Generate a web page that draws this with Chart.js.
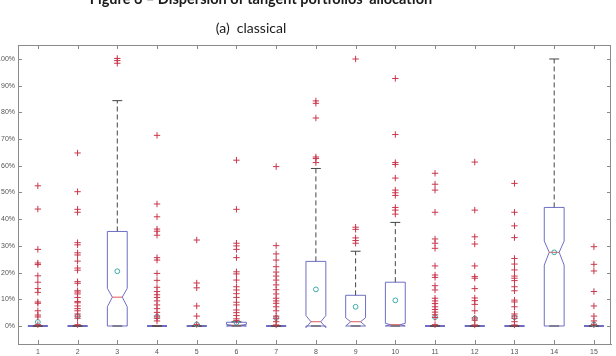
<!DOCTYPE html>
<html>
<head>
<meta charset="utf-8">
<script src="https://cdn.jsdelivr.net/npm/chart.js@4/dist/chart.umd.min.js"></script>
<style>
  html, body { margin: 0; padding: 0; background: #ffffff; }
  #wrap { width: 616px; height: 356px; }
</style>
</head>
<body>
<div id="wrap"><canvas id="c" width="616" height="356"></canvas></div>
<script>
// ---------- data (values in %) ----------
const titleText = "Figure 6 – Dispersion of tangent portfolios' allocation";
const subtitleText = "(a)  classical";
const categories = [1, 2, 3, 4, 5, 6, 7, 8, 9, 10, 11, 12, 13, 14, 15];
const xLabels = ["1", "2", "3", "4", "5", "6", "7", "8", "9", "10", "11", "12", "13", "14", "15"];
const yTicks = [0, 10, 20, 30, 40, 50, 60, 70, 80, 90, 100];

const q1Values      = [0, 0, 0,    0, 0, 0,   0, 0,    0,    0,    0, 0, 0, 0,    0];
const q3Values      = [0, 0, 35.4, 0, 0, 1.4, 0, 24.2, 11.5, 16.4, 0, 0, 0, 44.4, 0];
const medianValues  = [0, 0, 10.8, 0, 0, 0.3, 0, 1.6,  1.6,  0.5,  0, 0, 0, 27.6, 0];
const notchLow      = [0, 0, 7.2,  0, 0, 0,   0, -0.6, 0,    0,    0, 0, 0, 22.8, 0];
const notchHigh     = [0, 0, 14.1, 0, 0, 0.6, 0, 3.9,  3.1,  1.0,  0, 0, 0, 31.8, 0];
const whiskerLow    = [0, 0, 0,    0, 0, 0,   0, 0,    0,    0,    0, 0, 0, 0,    0];
const whiskerHigh   = [0, 0, 84.4, 0, 0, 1.6, 0, 59.0, 28.0, 38.8, 0, 0, 0, 100,  0];
const meanValues    = [1.5, 3.7, 20.5, 3.5, 0.6, 1.3, 3.0, 13.7, 7.2, 9.6, 3.3, 2.8, 3.3, 27.6, 0.6];

const outliers = [
  [52.5, 43.8, 28.7, 23.6, 23.0, 18.8, 16.4, 14.0, 12.6, 9.0, 8.5, 5.7, 4.1, 3.4, 0.5],
  [64.8, 50.3, 43.7, 42.6, 31.2, 30.4, 27.4, 26.6, 24.3, 21.7, 20.9, 16.6, 16.0, 13.2, 12.7, 12.0, 10.7, 9.2, 8.7, 7.5, 6.5, 5.7, 4.5, 3.7, 2.9, 0.5],
  [100.2, 99.4, 98.4],
  [71.4, 45.7, 40.9, 36.3, 35.5, 34.0, 25.6, 24.7, 19.7, 17.1, 14.5, 12.9, 11.7, 10.7, 9.4, 7.9, 6.5, 5.1, 3.7, 2.9, 1.9],
  [32.2, 16.1, 14.3, 7.5, 3.7, 0.6],
  [62.1, 43.7, 31.0, 30.0, 28.7, 25.6, 20.3, 19.5, 17.2, 14.7, 13.5, 12.1, 10.7, 8.9, 7.9, 6.0, 5.0, 3.9, 2.7, 2.1],
  [59.7, 30.1, 27.0, 24.7, 22.2, 20.2, 18.7, 17.2, 15.4, 13.6, 12.0, 10.4, 9.4, 8.5, 7.2, 5.7, 3.7, 2.9, 1.6, 0.4],
  [84.3, 83.4, 77.9, 63.3, 62.7, 61.2],
  [100, 37.0, 36.2, 33.0, 32.0, 31.0],
  [92.7, 71.7, 61.2, 60.5, 55.4, 50.9, 49.9, 48.9, 44.4, 43.4, 41.9],
  [57.2, 53.1, 50.9, 42.6, 32.6, 31.0, 29.1, 22.5, 19.1, 18.2, 15.1, 13.5, 10.4, 9.4, 8.4, 7.2, 6.2, 5.2, 4.2, 3.2, 0.5],
  [61.4, 43.4, 33.4, 30.7, 22.5, 18.5, 17.9, 14.0, 10.5, 9.5, 8.1, 5.7, 3.0, 2.2, 0.4],
  [53.4, 42.6, 37.5, 33.1, 25.3, 23.2, 21.0, 18.7, 17.9, 17.0, 14.7, 13.2, 9.7, 9.0, 7.2, 4.5, 3.7, 2.9, 1.6, 0.4],
  [],
  [29.7, 23.1, 20.6, 12.9, 7.5, 3.7, 1.9, 0.5]
];

// ---------- styles ----------
const BOX_COLOR = 'rgb(95,95,190)';
const MEDIAN_COLOR = 'rgb(220,70,70)';
const WHISKER_COLOR = '#444444';
const OUTLIER_COLOR = 'rgb(200,55,75)';
const MEAN_COLOR = 'rgb(60,170,170)';
const AXIS_COLOR = '#8a8a8a';
const TICK_LABEL_COLOR = '#555555';
const BOX_HALF = 0.25;

const outlierPoints = [];
categories.forEach((c, i) => outliers[i].forEach(v => outlierPoints.push({ x: c, y: v })));
const meanPoints = categories.map((c, i) => ({ x: c, y: meanValues[i] }));

const boxPlugin = {
  id: 'boxes',
  beforeDatasetsDraw(chart) {
    const { ctx, scales: { x, y }, chartArea } = chart;
    ctx.save();
    // mirrored frame and inward ticks
    ctx.strokeStyle = AXIS_COLOR;
    ctx.lineWidth = 1;
    ctx.beginPath();
    ctx.moveTo(chartArea.left, chartArea.top + 0.5);
    ctx.lineTo(chartArea.right, chartArea.top + 0.5);
    ctx.moveTo(chartArea.right - 0.5, chartArea.top);
    ctx.lineTo(chartArea.right - 0.5, chartArea.bottom);
    const tl = 4;
    categories.forEach(c => {
      const px = Math.round(x.getPixelForValue(c)) + 0.5;
      ctx.moveTo(px, chartArea.top); ctx.lineTo(px, chartArea.top + tl);
      ctx.moveTo(px, chartArea.bottom); ctx.lineTo(px, chartArea.bottom - tl);
    });
    yTicks.forEach(v => {
      const py = Math.round(y.getPixelForValue(v)) + 0.5;
      ctx.moveTo(chartArea.left, py); ctx.lineTo(chartArea.left + tl, py);
      ctx.moveTo(chartArea.right, py); ctx.lineTo(chartArea.right - tl, py);
    });
    ctx.stroke();

    categories.forEach((c, i) => {
      const xc = x.getPixelForValue(c);
      const xl = x.getPixelForValue(c - BOX_HALF), xr = x.getPixelForValue(c + BOX_HALF);
      const xnl = x.getPixelForValue(c - BOX_HALF / 2), xnr = x.getPixelForValue(c + BOX_HALF / 2);
      const yq1 = y.getPixelForValue(q1Values[i]), yq3 = y.getPixelForValue(q3Values[i]);
      const ym = y.getPixelForValue(medianValues[i]);
      const ynl = y.getPixelForValue(notchLow[i]), ynh = y.getPixelForValue(notchHigh[i]);
      const ywh = y.getPixelForValue(whiskerHigh[i]), ywl = y.getPixelForValue(whiskerLow[i]);

      // whiskers
      ctx.strokeStyle = WHISKER_COLOR;
      ctx.lineWidth = 1;
      ctx.setLineDash([5, 3]);
      ctx.beginPath();
      if (whiskerHigh[i] > q3Values[i]) { ctx.moveTo(xc, yq3); ctx.lineTo(xc, ywh); }
      if (whiskerLow[i] < q1Values[i]) { ctx.moveTo(xc, yq1); ctx.lineTo(xc, ywl); }
      ctx.stroke();
      ctx.setLineDash([]);

      // notched box
      ctx.strokeStyle = BOX_COLOR;
      ctx.lineWidth = 0.9;
      ctx.beginPath();
      ctx.moveTo(xl, yq1);
      ctx.lineTo(xl, ynl);
      ctx.lineTo(xnl, ym);
      ctx.lineTo(xl, ynh);
      ctx.lineTo(xl, yq3);
      ctx.lineTo(xr, yq3);
      ctx.lineTo(xr, ynh);
      ctx.lineTo(xnr, ym);
      ctx.lineTo(xr, ynl);
      ctx.lineTo(xr, yq1);
      ctx.closePath();
      ctx.stroke();

      // median
      ctx.strokeStyle = MEDIAN_COLOR;
      ctx.beginPath();
      ctx.moveTo(xnl, ym); ctx.lineTo(xnr, ym);
      ctx.stroke();

      // whisker caps
      ctx.strokeStyle = WHISKER_COLOR;
      ctx.lineWidth = 1;
      ctx.beginPath();
      ctx.moveTo(xnl, ywh); ctx.lineTo(xnr, ywh);
      ctx.moveTo(xnl, ywl); ctx.lineTo(xnr, ywl);
      ctx.stroke();
    });
    ctx.restore();
  },
  afterDraw(chart) {
    const { ctx } = chart;
    ctx.save();
    ctx.fillStyle = '#1a1a1a';
    ctx.textAlign = 'center';
    ctx.textBaseline = 'alphabetic';
    ctx.font = 'bold 14.5px Lato';
    ctx.fillText(titleText, 261, 4);
    ctx.font = '14px Lato';
    ctx.fillText(subtitleText, 251, 33);
    ctx.restore();
  }
};

new Chart(document.getElementById('c'), {
  type: 'scatter',
  data: {
    datasets: [
      {
        label: 'outliers',
        data: outlierPoints,
        pointStyle: 'cross',
        pointRadius: 3.2,
        pointBorderWidth: 1,
        borderColor: OUTLIER_COLOR,
        backgroundColor: OUTLIER_COLOR,
        order: 0
      },
      {
        label: 'mean',
        data: meanPoints,
        pointStyle: 'circle',
        pointRadius: 2.4,
        pointBorderWidth: 1,
        borderColor: MEAN_COLOR,
        backgroundColor: 'rgba(0,0,0,0)',
        order: 1
      }
    ]
  },
  options: {
    responsive: false,
    animation: false,
    devicePixelRatio: 1,
    layout: { padding: { left: 0, right: 4, top: 45, bottom: 0 } },
    plugins: { legend: { display: false }, tooltip: { enabled: false }, title: { display: false } },
    scales: {
      x: {
        type: 'linear',
        min: 0.5,
        max: 15.43,
        grid: { display: false, drawTicks: false },
        border: { display: true, color: AXIS_COLOR },
        afterBuildTicks: s => { s.ticks = categories.map(v => ({ value: v })); },
        afterFit: s => { s.height = 12; },
        ticks: {
          padding: 4,
          color: TICK_LABEL_COLOR,
          font: { family: 'Liberation Sans', size: 7 },
          maxRotation: 0,
          autoSkip: false,
          callback: v => xLabels[categories.indexOf(v)]
        }
      },
      y: {
        type: 'linear',
        min: -6.74,
        max: 105.24,
        grid: { display: false, drawTicks: false },
        border: { display: true, color: AXIS_COLOR },
        afterBuildTicks: s => { s.ticks = yTicks.map(v => ({ value: v })); },
        afterFit: s => { s.width = 18; },
        ticks: {
          padding: 3,
          color: TICK_LABEL_COLOR,
          font: { family: 'Liberation Sans', size: 7 },
          autoSkip: false,
          callback: v => v + '%'
        }
      }
    }
  },
  plugins: [boxPlugin]
});
</script>
</body>
</html>
